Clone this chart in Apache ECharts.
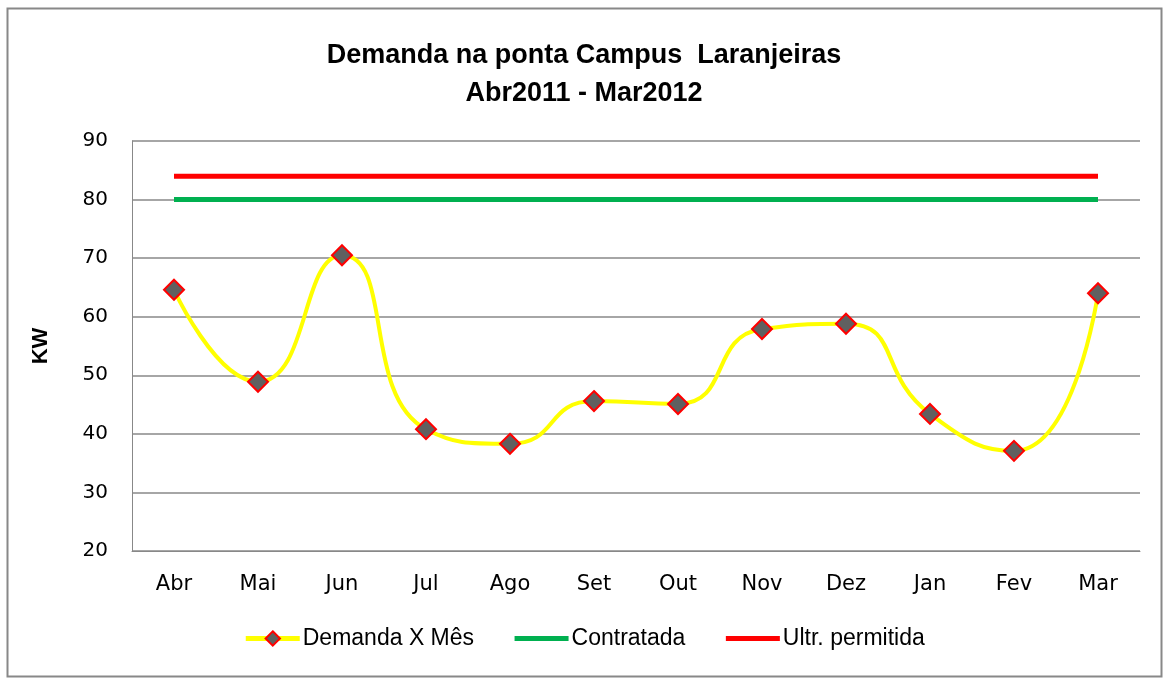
<body style="margin:0">
<meta charset="utf-8">
<div id="main" style="width:1168px;height:678px;"></div>
<script src="https://cdn.jsdelivr.net/npm/echarts@6/dist/echarts.min.js"></script>
</body>
<script>
var meses = ['Abr', 'Mai', 'Jun', 'Jul', 'Ago', 'Set', 'Out', 'Nov', 'Dez', 'Jan', 'Fev', 'Mar'];
var demanda = [64.6, 48.9, 70.5, 40.8, 38.3, 45.6, 45.1, 57.9, 58.8, 43.4, 37.1, 64.0];
var contratada = [80, 80, 80, 80, 80, 80, 80, 80, 80, 80, 80, 80];
var ultr = [84, 84, 84, 84, 84, 84, 84, 84, 84, 84, 84, 84];

var myChart = echarts.init(document.getElementById('main'));
var fonte = 'Liberation Sans';

myChart.setOption({
    animation: false,
    backgroundColor: '#fff',
    graphic: [{
        type: 'rect',
        shape: { x: 7.5, y: 8.5, width: 1154, height: 668 },
        style: { fill: 'none', stroke: '#888', lineWidth: 2 }
    }],
    title: {
        text: 'Demanda na ponta Campus  Laranjeiras\nAbr2011 - Mar2012',
        left: 'center',
        top: 32,
        textStyle: { fontFamily: fonte, fontSize: 27, fontWeight: 'bold', color: '#000', lineHeight: 38 }
    },
    legend: {
        bottom: 23,
        left: 'center',
        itemWidth: 54,
        itemHeight: 18,
        itemGap: 38,
        lineStyle: { width: 5 },
        textStyle: { fontFamily: fonte, fontSize: 23, color: '#000', padding: [0, 0, 0, -2] },
        data: [
            'Demanda X Mês',
            { name: 'Contratada', itemStyle: { opacity: 0 } },
            { name: 'Ultr. permitida', itemStyle: { opacity: 0 } }
        ]
    },
    grid: { left: 132, right: 28, top: 141, bottom: 127 },
    xAxis: {
        type: 'category',
        boundaryGap: true,
        data: meses,
        axisLine: { lineStyle: { color: '#888' } },
        axisTick: { show: false },
        axisLabel: { fontFamily: 'DejaVu Sans', fontSize: 21, color: '#000', margin: 23 }
    },
    yAxis: {
        type: 'value',
        min: 20,
        max: 90,
        interval: 10,
        name: 'KW',
        nameLocation: 'middle',
        nameGap: 80,
        nameTextStyle: { fontFamily: fonte, fontSize: 22, fontWeight: 'bold', color: '#000' },
        axisLine: { show: true, lineStyle: { color: '#888' } },
        axisTick: { show: false },
        axisLabel: { fontFamily: 'DejaVu Sans', fontSize: 20, color: '#000', margin: 24 },
        splitLine: { lineStyle: { color: '#888', width: 1.5 } }
    },
    series: [
        {
            name: 'Demanda X Mês',
            type: 'line',
            smooth: 0.55,
            data: demanda,
            symbol: 'diamond',
            symbolSize: 20,
            itemStyle: { color: '#606060', borderColor: '#ff0000', borderWidth: 2 },
            lineStyle: { color: '#ffff00', width: 4 },
            z: 5
        },
        {
            name: 'Contratada',
            type: 'line',
            data: contratada,
            symbol: 'none',
            itemStyle: { color: '#00b050' },
            lineStyle: { color: '#00b050', width: 5 }
        },
        {
            name: 'Ultr. permitida',
            type: 'line',
            data: ultr,
            symbol: 'none',
            itemStyle: { color: '#ff0000' },
            lineStyle: { color: '#ff0000', width: 5 }
        }
    ]
});
</script>
